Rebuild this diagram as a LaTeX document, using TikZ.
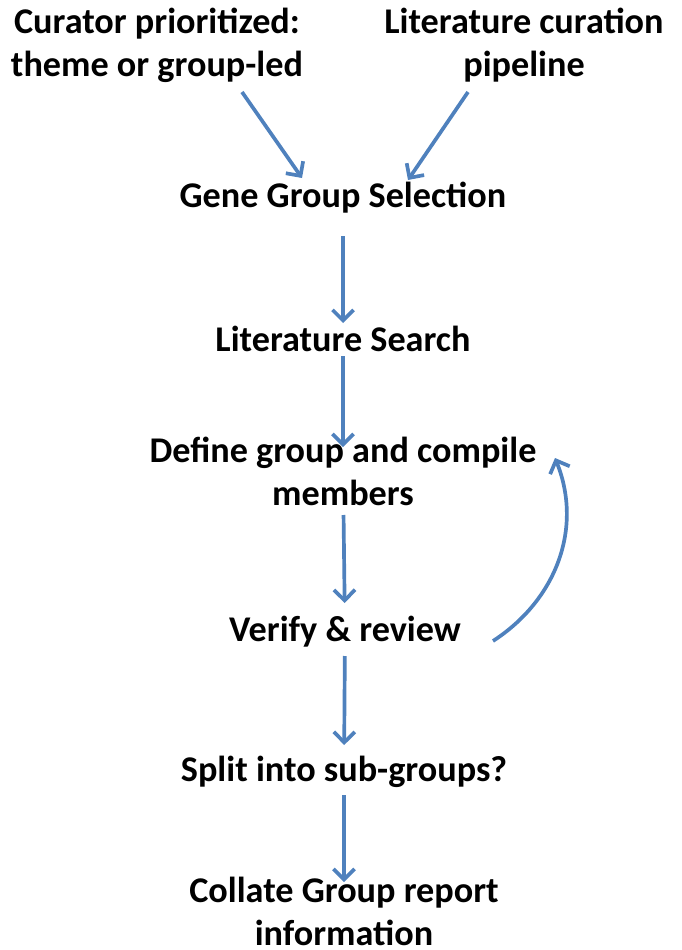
\documentclass[tikz,border=0pt]{standalone}
\usepackage{fontspec}
\setmainfont{Carlito}
\usetikzlibrary{arrows.meta}
\definecolor{flowblue}{HTML}{4F81BD}
\def\px{0.02cm}
\begin{document}
\begin{tikzpicture}[x=\px,y=-\px,
    step node/.style={align=center,inner sep=0pt,font=\bfseries\fontsize{20.6}{24.4}\selectfont},
    flow/.style={draw=flowblue,line width=2.1pt,-{Straight Barb[length=6pt,width=12pt]}}]
    \useasboundingbox (0,0) rectangle (681,950);

    \node[step node] (cur) at (157,45) {Curator prioritized:\\theme or group-led};
    \node[step node] (pipe) at (524,45) {Literature curation\\pipeline};
    \node[step node] (gene) at (343,198) {Gene Group Selection};
    \node[step node] (lit) at (343,339) {Literature Search};
    \node[step node] (def) at (343,471) {Define group and compile\\members};
    \node[step node] (ver) at (345,632) {Verify \& review};
    \node[step node] (split) at (344,772) {Split into sub-groups?};
    \node[step node] (coll) at (344,911) {Collate Group report\\information};

    \draw [flow] ([shift={(85,47)}]cur.center) -- ([shift={(-41,-20)}]gene.center);
    \draw [flow] ([shift={(-56,47)}]pipe.center) -- ([shift={(65,-18)}]gene.center);
    \draw [flow,shorten <=38*\px,shorten >=16*\px] (gene.center) -- (lit.center);
    \draw [flow,shorten <=17*\px,shorten >=24*\px] (lit.center) -- (def.center);
    \draw [flow,shorten <=44*\px,shorten >=29*\px] (def.center) -- (ver.center);
    \draw [flow,shorten <=24*\px,shorten >=27*\px] (ver.center) -- (split.center);
    \draw [flow,shorten <=23*\px,shorten >=29*\px] (split.center) -- (coll.center);
    \draw [flow] ([shift={(148,9)}]ver.center) to[out=33,in=-68] ([shift={(212,-13)}]def.center);
\end{tikzpicture}
\end{document}
